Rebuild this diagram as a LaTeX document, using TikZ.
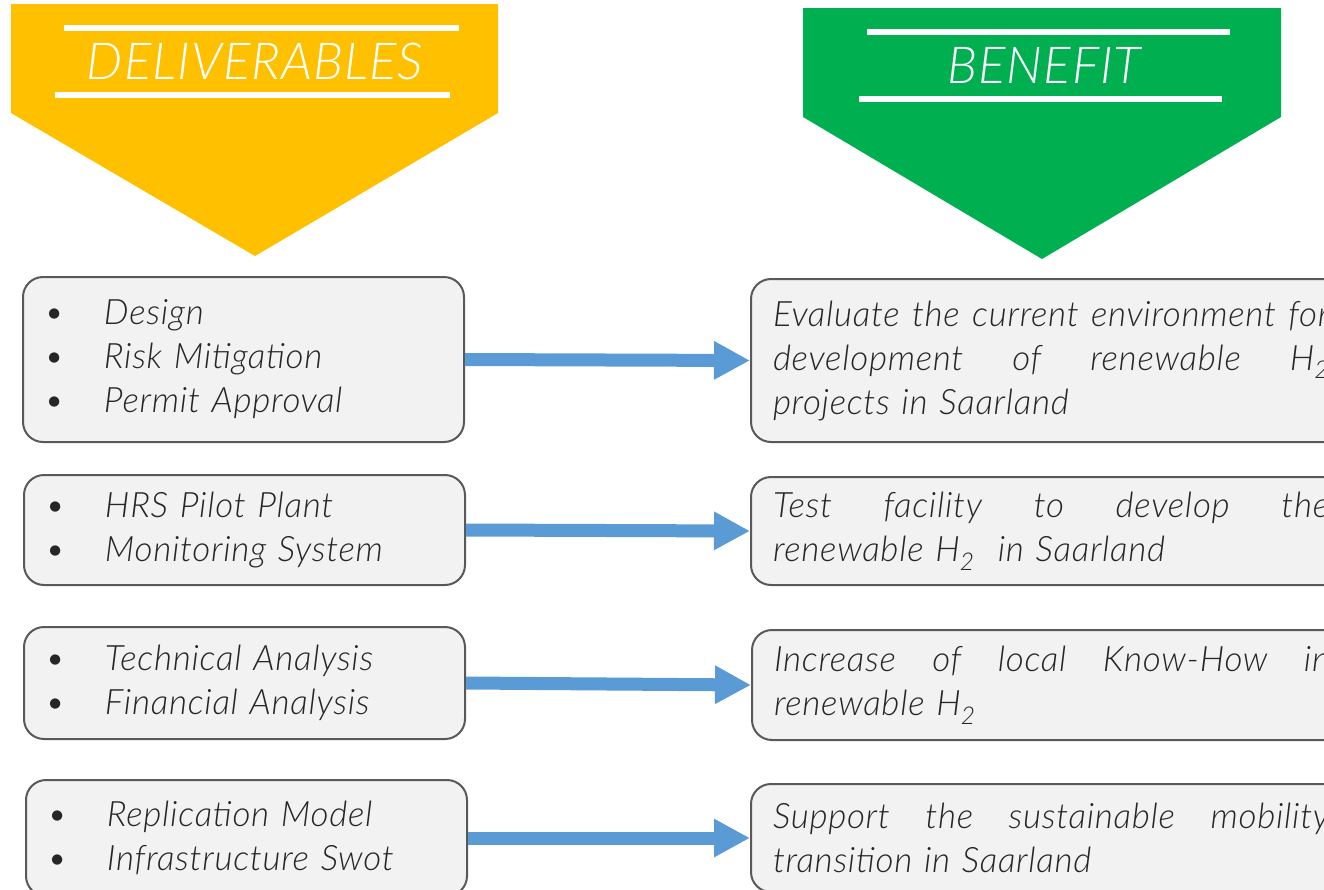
\documentclass[tikz,border=0pt]{standalone}
\usepackage{fontspec}
\setmainfont{Lato}[LetterSpace=2, ItalicFont={Lato Light Italic}]
\usetikzlibrary{arrows.meta}
\definecolor{delivyellow}{HTML}{FFC000}
\definecolor{benefitgreen}{HTML}{00B050}
\definecolor{boxfill}{HTML}{F2F2F2}
\definecolor{boxline}{HTML}{595959}
\definecolor{flowblue}{HTML}{5B9BD5}
\newcommand{\bul}{\makebox[60pt][l]{\textbullet}}
\newcommand{\jline}[1]{{\spaceskip=0pt\xspaceskip=0pt\makebox[556pt][s]{#1}}}
\tikzset{
  banner/.style={font=\fontsize{51}{60}\selectfont\itshape, text=white},
  rule/.style={draw=white, line width=6pt},
  item/.style={draw=boxline, fill=boxfill, line width=2pt, rounded corners=20pt,
    anchor=west, align=left, inner xsep=21pt, text width=399pt,
    font=\fontsize{35}{44}\selectfont\itshape, text=black!85},
  benefit/.style={item, inner xsep=22pt, text width=556pt},
  flow/.style={draw=flowblue, line width=13pt, -{Triangle[length=36pt,width=36pt]}}
}
\begin{document}
\begin{tikzpicture}[x=1pt,y=-1pt]
  \useasboundingbox (0,0) rectangle (1324,889);
  % Banners
  \fill[delivyellow] (11,4) -- (498,4) -- (498,113) -- (255,256) -- (11,113) -- cycle;
  \draw[rule] (64,28) -- (459,28);
  \draw[rule] (55,95) -- (450,95);
  \node[banner] (hdeliv) at (255,61) {DELIVERABLES};

  \fill[benefitgreen] (803,8) -- (1281,8) -- (1281,117) -- (1042,259) -- (803,117) -- cycle;
  \draw[rule] (867,32) -- (1230,32);
  \draw[rule] (859,99) -- (1222,99);
  \node[banner] (hbenefit) at (1044,65) {BENEFIT};

  % Deliverables
  \node[item, minimum height=165pt] (d1) at (22,359.5)
    {\bul Design\\ \bul Risk Mitigation\\ \bul Permit Approval};
  \node[item, minimum height=110pt] (d2) at (23,530)
    {\bul HRS Pilot Plant\\ \bul Monitoring System};
  \node[item, minimum height=112pt] (d3) at (23,683)
    {\bul Technical Analysis\\ \bul Financial Analysis};
  \node[item, minimum height=116pt] (d4) at (25,838)
    {\bul Replication Model\\ \bul Infrastructure Swot};

  % Benefits
  \node[benefit, minimum height=163pt] (b1) at (750,360.5)
    {\jline{Evaluate the current environment for}\\
     \jline{development of renewable H\textsubscript{2}}\\
     projects in Saarland};
  \node[benefit, minimum height=108pt] (b2) at (750,531)
    {\jline{Test facility to develop the}\\
     renewable H\textsubscript{2}\ \ in Saarland};
  \node[benefit, minimum height=110pt] (b3) at (751,685)
    {\jline{Increase of local Know-How in}\\
     renewable H\textsubscript{2}};
  \node[benefit, minimum height=108pt] (b4) at (750,838)
    {\jline{Support the sustainable mobility}\\
     transition in Saarland};

  % Arrows
  \foreach \i in {1,...,4}
  {
    \draw[flow] (d\i.east) -- (b\i.west);
  }
\end{tikzpicture}
\end{document}
